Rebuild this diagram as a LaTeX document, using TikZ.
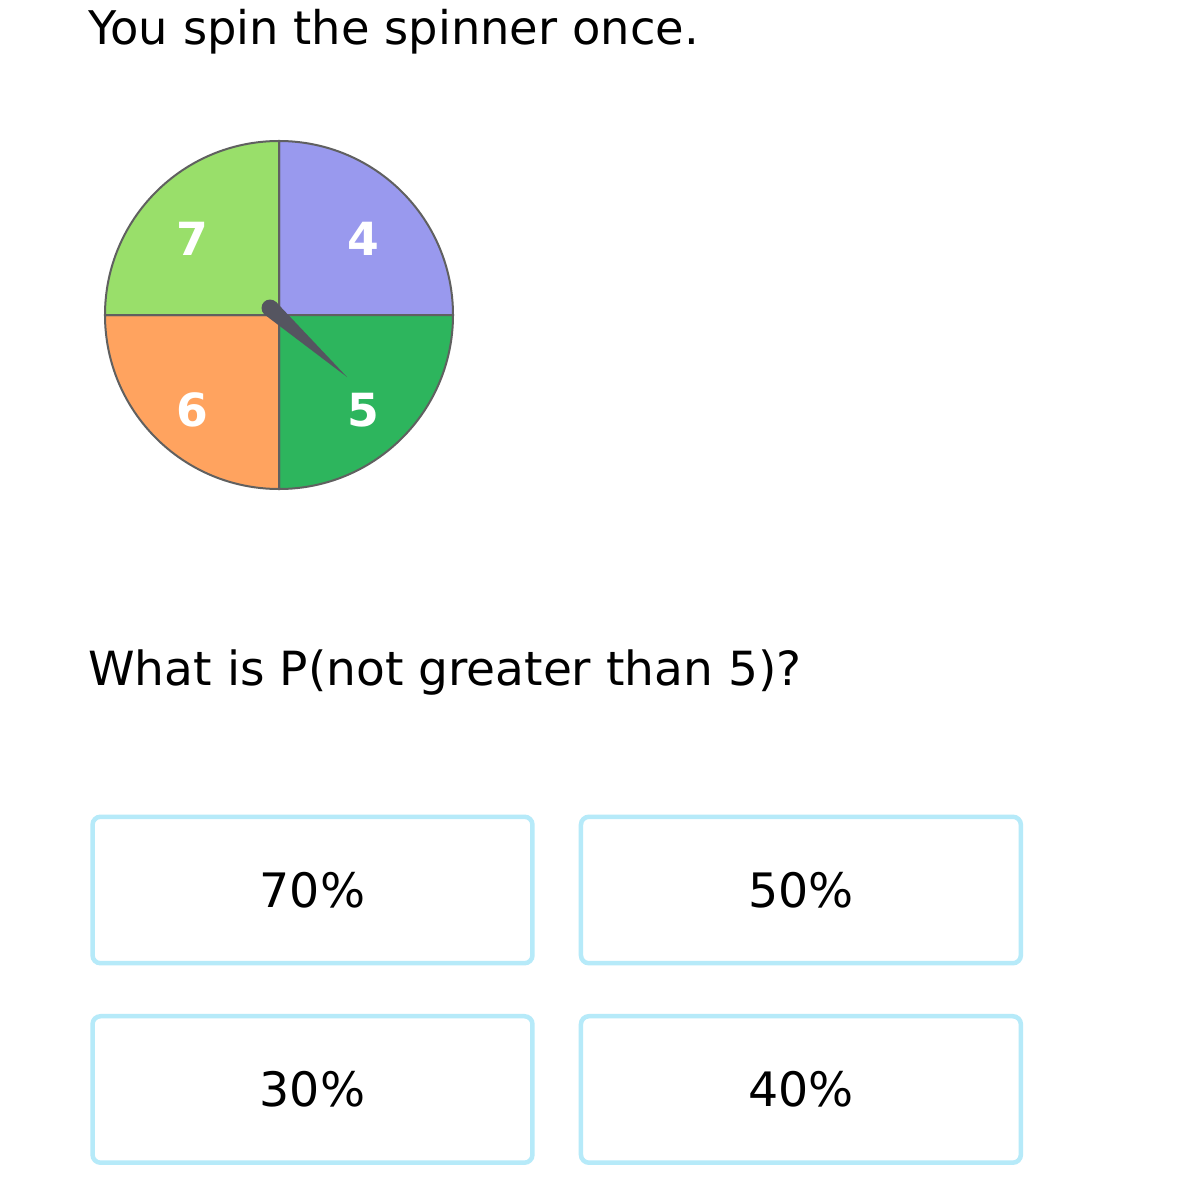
\documentclass[tikz,border=0pt]{standalone}
\usepackage{fontspec}
\setmainfont{DejaVu Sans}
\usetikzlibrary{positioning}

\definecolor{colLine}{HTML}{606060}
\definecolor{colBox}{HTML}{B6EAF9}
\definecolor{colPurple}{HTML}{9999EE}
\definecolor{colGreen}{HTML}{2DB55D}
\definecolor{colOrange}{HTML}{FFA35F}
\definecolor{colLime}{HTML}{99DF6A}
\definecolor{colHand}{HTML}{555560}

\begin{document}
\begin{tikzpicture}[x=0.02cm,y=-0.02cm]

\useasboundingbox[fill=white] (0,0) rectangle (1199,1200);

\tikzset{answer/.style={rectangle,rounded corners=0.16cm,
      line width=0.09cm,draw=colBox,
      minimum width=8.8cm,minimum height=2.93cm,
      font=\fontsize{27}{31}\selectfont},
   digit/.style={text=white,inner sep=0,
      font=\fontsize{26}{30}\selectfont\bfseries},
   sector/.style={draw=colLine,line width=0.04cm}};

\node[anchor=base west,inner sep=0,
      font=\fontsize{26.4}{30}\selectfont]
      (title) at (88,44) {You spin the spinner once.};

% spinner
\coordinate (hub) at (279,315);
\filldraw[sector,fill=colPurple] (hub) -- ++(0:174)
      arc[start angle=0,end angle=-90,radius=174] -- cycle;
\filldraw[sector,fill=colGreen] (hub) -- ++(0:174)
      arc[start angle=0,end angle=90,radius=174] -- cycle;
\filldraw[sector,fill=colOrange] (hub) -- ++(90:174)
      arc[start angle=90,end angle=180,radius=174] -- cycle;
\filldraw[sector,fill=colLime] (hub) -- ++(180:174)
      arc[start angle=180,end angle=270,radius=174] -- cycle;

\node[digit] (n4) at (363,239) {4};
\node[digit] (n5) at (363,410) {5};
\node[digit] (n6) at (192,410) {6};
\node[digit] (n7) at (192,239) {7};

% hand
\fill[colHand] (270,308) circle[radius=8.5];
\fill[colHand] (264.2,314.3) -- (347,377) -- (275.8,301.7) -- cycle;

\node[anchor=base west,inner sep=0,
      font=\fontsize{26.8}{31}\selectfont]
      (question) at (88,685) {What is P(not greater than 5)?};

\node[answer] (a70) at (312.5,890) {70\%};
\node[answer,right of=a70,node distance=9.77cm] (a50) {50\%};
\node[answer,below of=a70,node distance=3.99cm] (a30) {30\%};
\node[answer,right of=a30,node distance=9.77cm] (a40) {40\%};

\end{tikzpicture}
\end{document}
